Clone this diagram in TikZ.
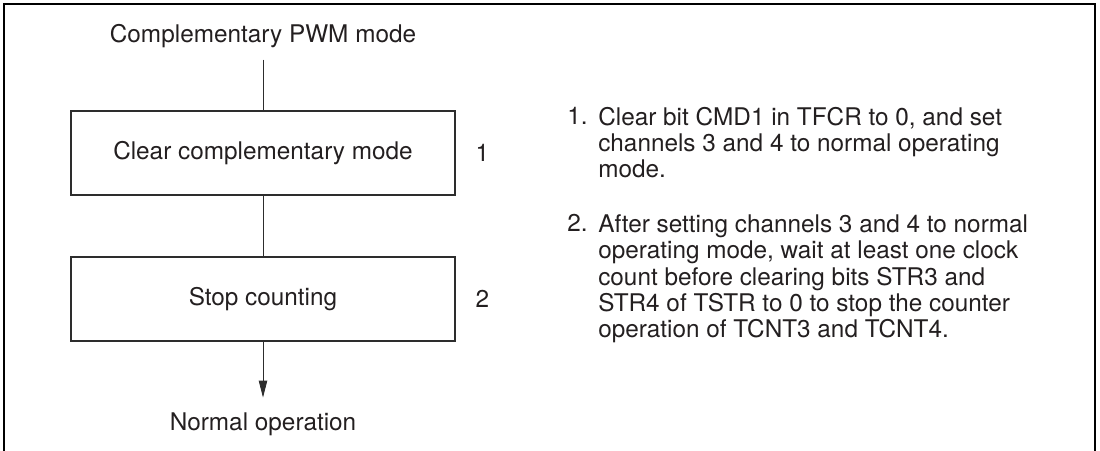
\documentclass[tikz,border=0pt]{standalone}
\usepackage{fontspec}
\setmainfont{TeX Gyre Heros}
\usepackage{tikz}
\usetikzlibrary{arrows.meta, positioning}
\definecolor{inkdark}{RGB}{35,31,32}
\definecolor{boxline}{RGB}{45,45,45}
\newcommand{\diagfont}{\fontsize{17.3}{18.8}\selectfont}
\tikzset{
  stepbox/.style={rectangle,draw=boxline,line width=0.8pt,minimum width=9.6cm,
    minimum height=2.1cm,font=\diagfont,text=inkdark},
  term/.style={font=\diagfont,text=inkdark,inner xsep=0pt},
  stepnum/.style={font=\diagfont,text=inkdark},
  note/.style={font=\diagfont,text=inkdark,align=left,inner sep=0pt,anchor=base west},
  flowline/.style={line width=0.6pt,color=boxline},
  flowarrow/.style={-{Triangle[length=12pt,width=6pt]},line width=0.6pt,color=boxline},
  frame/.style={line width=1.5pt,color=black}
}

\begin{document}
\begin{tikzpicture}[x=0.025cm,y=-0.025cm]
  \useasboundingbox (0,0) rectangle (1100,451);
  % Outer frame (open at the bottom)
  \draw[frame] (4,460) -- (4,4) -- (1095,4) -- (1095,460);

  % Flow
  \node[term, anchor=base, inner ysep=7.8pt] (start) at (263,43) {Complementary PWM mode};
  \node[stepbox] (clear) at (263,153) {Clear complementary mode};
  \node[stepbox] (stop) at (263,299) {Stop counting};
  \node[term, anchor=base, inner ysep=11pt] (normal) at (263,431) {Normal operation};
  \node[stepnum, right=0.375cm of clear] (num1) {1};
  \node[stepnum, right=0.375cm of stop] (num2) {2};

  \draw[flowline] (start) -- (clear);
  \draw[flowline] (clear) -- (stop);
  \draw[flowarrow] (stop) -- (normal);

  % Notes (a multi-line node sits on its last baseline)
  \node[note] (item1) at (567,125) {1.};
  \node[note] (note1) at (598,178) {Clear bit CMD1 in TFCR to 0, and set\\
    channels 3 and 4 to normal operating\\
    mode.};
  \node[note] (item2) at (567,232) {2.};
  \node[note] (note2) at (598,338) {After setting channels 3 and 4 to normal\\
    operating mode, wait at least one clock\\
    count before clearing bits STR3 and\\
    STR4 of TSTR to 0 to stop the counter\\
    operation of TCNT3 and TCNT4.};
\end{tikzpicture}
\end{document}
